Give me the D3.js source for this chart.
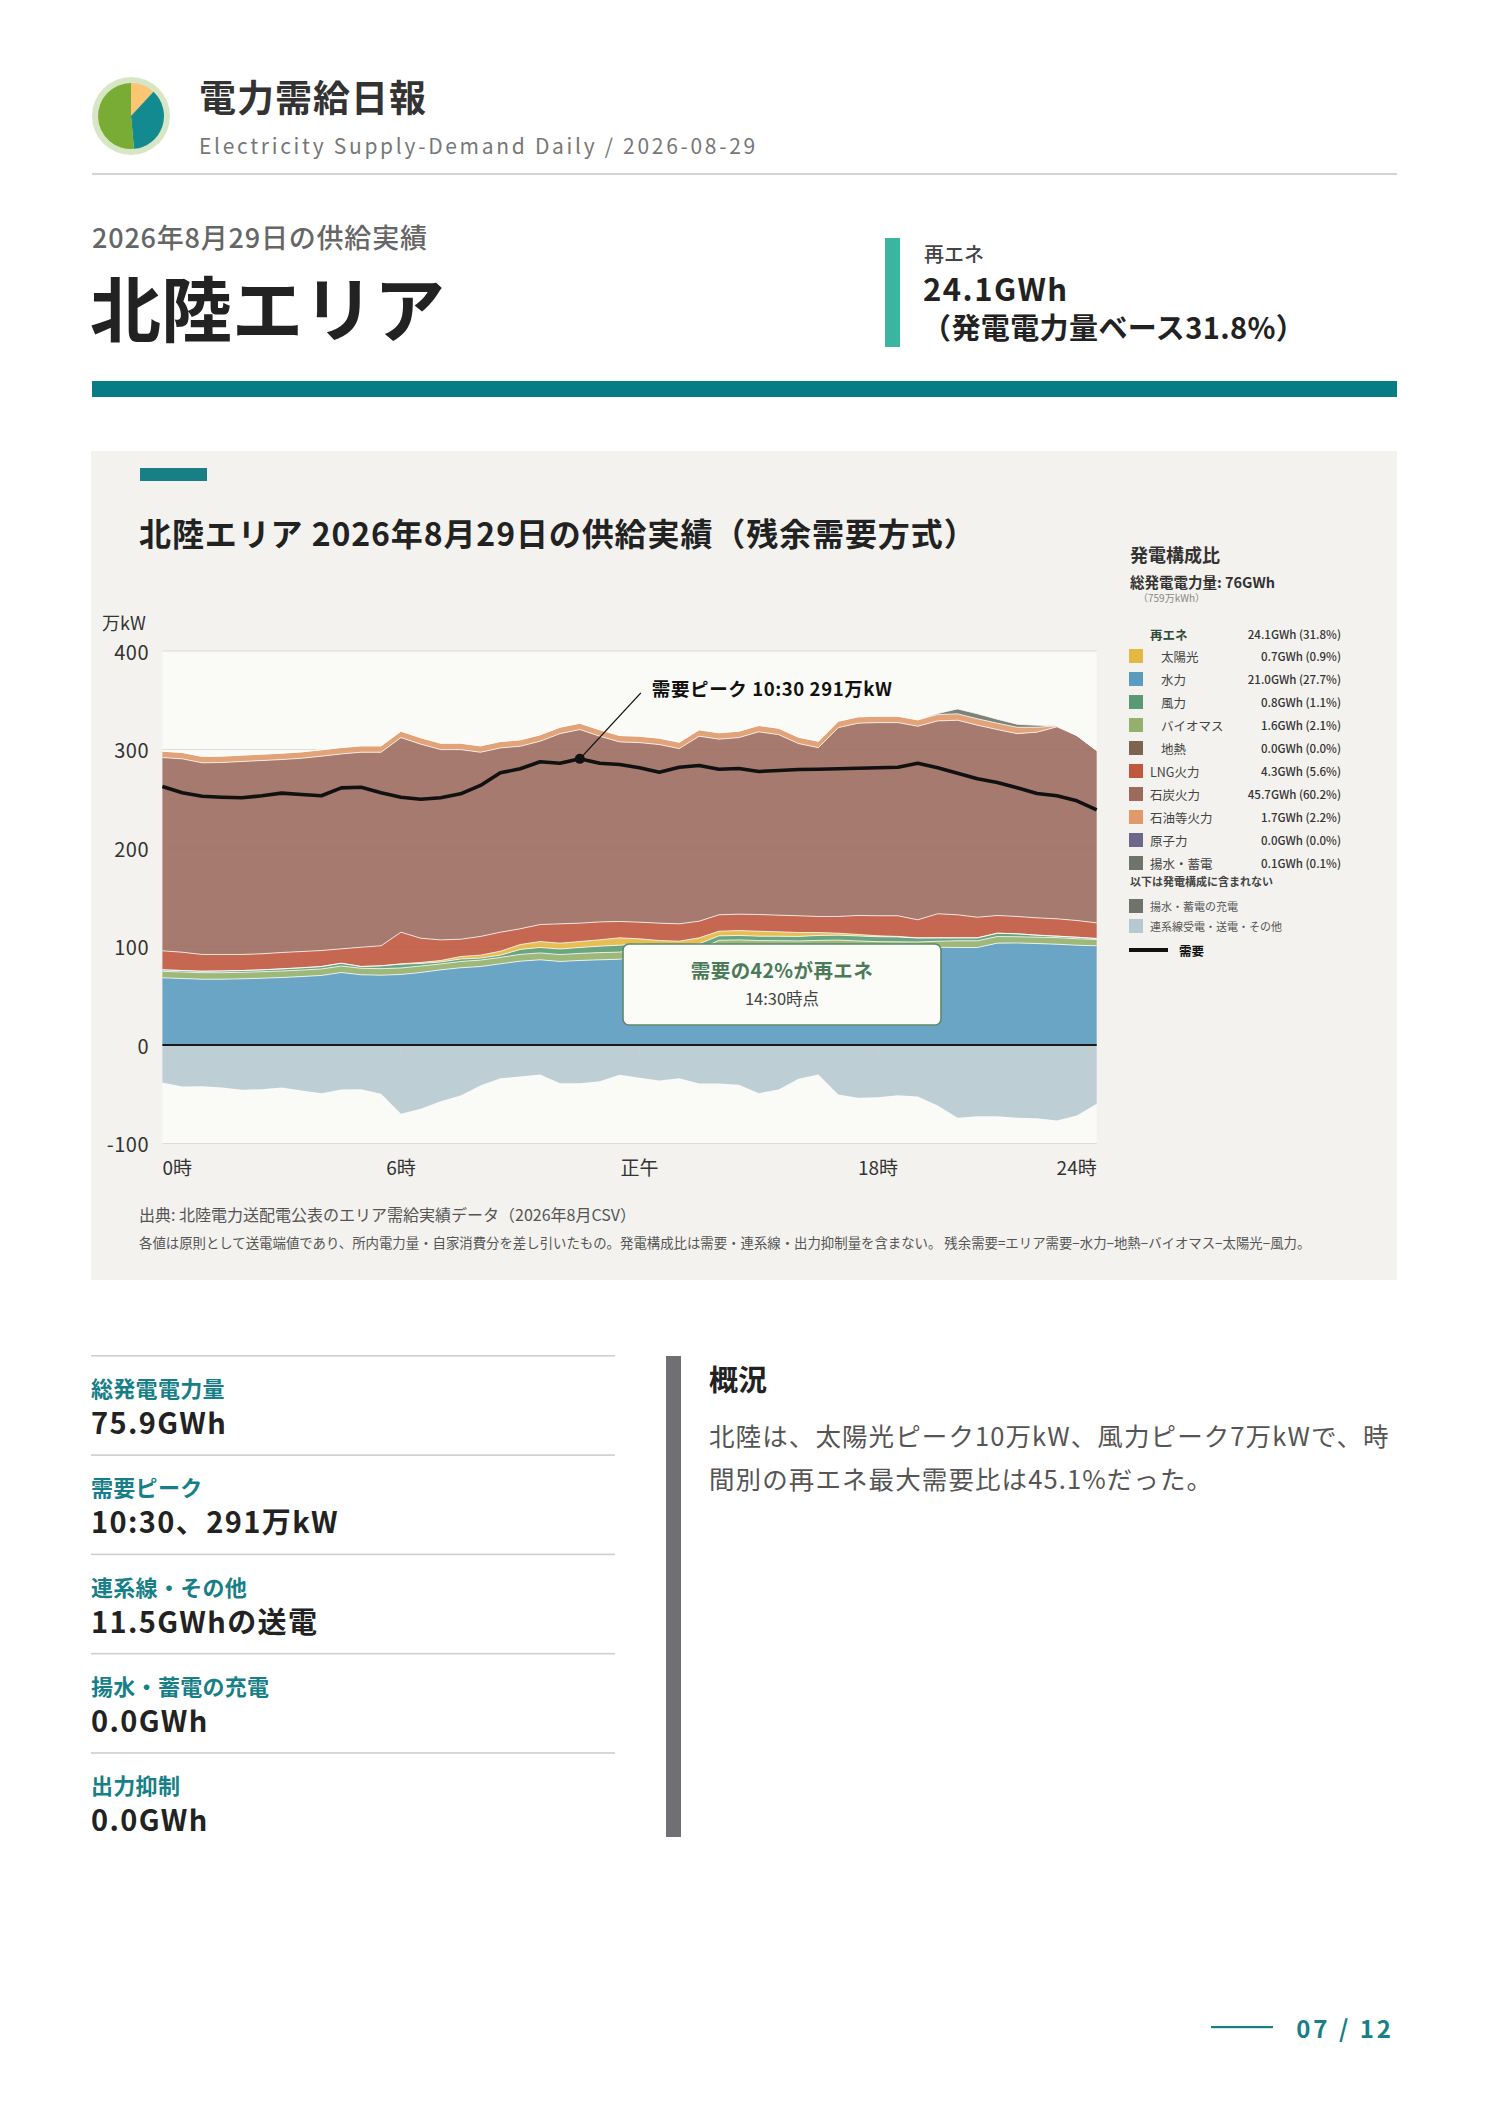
<!DOCTYPE html>
<html lang="ja">
<head>
<meta charset="utf-8">
<script src="https://cdn.jsdelivr.net/npm/d3@7/dist/d3.min.js"></script>
<style>
html,body{margin:0;padding:0;background:#ffffff;}
svg{display:block;font-family:"Noto Sans CJK JP","Noto Sans",sans-serif;}
</style>
</head>
<body>
<svg id="page" width="1488" height="2105"></svg>
<script>
// ---------- DATA ----------
const slots = ["0:00","0:30","1:00","1:30","2:00","2:30","3:00","3:30","4:00","4:30","5:00","5:30",
"6:00","6:30","7:00","7:30","8:00","8:30","9:00","9:30","10:00","10:30","11:00","11:30",
"12:00","12:30","13:00","13:30","14:00","14:30","15:00","15:30","16:00","16:30","17:00","17:30",
"18:00","18:30","19:00","19:30","20:00","20:30","21:00","21:30","22:00","22:30","23:00","23:30"];

const hydro = [68.2,67.5,66.8,66.8,67.2,67.8,68.5,69.5,70.6,73.6,71.3,70.9,71.6,73.6,76.3,78.4,79.7,82.4,85.1,86.5,84.8,85.8,86.5,87.1,
89.8,88.1,87.4,89.8,99.3,99.7,99.0,98.9,98.7,99.2,99.5,98.7,97.9,97.7,97.6,99.3,99.0,99.0,103.4,103.6,103.0,102.3,101.3,100.7];
const geothermal = [0,0,0,0,0,0,0,0,0,0,0,0,0,0,0,0,0,0,0,0,0,0,0,0,0,0,0,0,0,0,0,0,0,0,0,0,0,0,0,0,0,0,0,0,0,0,0,0];
const biomass = [6.6,6.6,6.6,6.6,6.6,6.6,6.6,6.6,6.6,6.6,6.6,6.6,6.6,6.6,6.0,6.4,6.5,6.5,6.9,7.0,7.0,7.2,7.3,7.2,
7.0,7.0,7.0,7.0,7.0,7.0,7.0,7.0,7.0,7.0,7.0,7.0,7.0,7.0,7.0,6.0,6.8,6.8,6.7,6.3,6.5,6.7,6.6,6.4];
const wind = [1.5,1.5,1.5,1.8,1.8,1.9,2.2,2.3,2.5,2.8,1.8,2.9,3.9,2.6,2.0,2.5,2.0,2.3,5.0,5.5,5.6,6.0,6.5,7.0,
6.0,6.0,6.0,6.0,4.5,4.5,4.5,4.5,4.5,5.0,5.0,5.0,5.0,5.0,4.0,3.5,3.0,3.0,3.4,3.0,2.0,1.5,1.5,1.0];
const solar = [0,0,0,0,0,0,0,0,0,0,0,0,0.3,1.0,1.5,2.5,3.0,4.0,5.0,6.0,6.0,6.0,6.5,7.5,
5.0,5.0,5.0,6.0,4.7,5.0,5.0,4.5,4.0,3.0,2.0,1.5,1.0,0.5,0.2,0,0,0,0,0,0,0,0,0];
const lng = [19.3,18.6,17.0,16.7,16.3,16.3,16.6,16.5,16.2,14.6,19.6,20.3,32.1,24.6,20.9,17.6,19.0,19.3,16.0,17.3,19.6,18.7,18.2,16.6,
16.9,17.6,17.6,16.9,16.7,16.6,17.0,16.9,17.0,16.3,17.0,19.3,20.3,21.0,18.3,24.4,23.4,20.9,18.0,17.6,17.6,17.6,17.0,15.9];
const coal = [196.2,196.3,194.6,194.9,195.9,196.2,195.9,196.2,197.3,197.9,197.9,196.5,197.6,197.0,193.2,192.5,187.0,187.1,185.3,186.1,193.1,196.5,188.5,182.3,
182.3,181.3,177.9,187.8,178.3,179.3,185.4,183.3,174.8,171.4,191.7,195.2,196.1,196.1,196.5,195.8,197.5,195.0,188.7,185.6,188.5,194.9,187.8,175.0];
const oil = [6.5,6.5,6.5,6.5,6.5,6.5,6.5,6.5,6.5,6.5,6.5,6.5,6.5,6.5,6.5,6.5,6.5,6.5,6.5,6.5,6.5,6.5,6.5,6.5,
6.5,6.5,6.5,6.5,6.5,6.5,6.5,6.5,6.5,6.5,6.5,6.5,6.5,6.5,6.5,6.5,6.5,6.5,6.5,6.5,5.0,1.0,0,0];
const nuclear = [0,0,0,0,0,0,0,0,0,0,0,0,0,0,0,0,0,0,0,0,0,0,0,0,0,0,0,0,0,0,0,0,0,0,0,0,0,0,0,0,0,0,0,0,0,0,0,0];
const pumpedGen = [0,0,0,0,0,0,0,0,0,0,0,0,0,0,0,0,0,0,0,0,0,0,0,0,0,0,0,0,0,0,0,0,0,0,0,0,0,0,0,1,5,5,4,3,2,0,0,0];
const pumpedCharge = [0,0,0,0,0,0,0,0,0,0,0,0,0,0,0,0,0,0,0,0,0,0,0,0,0,0,0,0,0,0,0,0,0,0,0,0,0,0,0,0,0,0,0,0,0,0,0,0];
const interconnect = [-38.0,-42.1,-41.8,-43.1,-45.5,-44.8,-43.1,-46.2,-48.9,-45.2,-44.8,-49.6,-69.9,-64.8,-57.0,-51.3,-41.1,-33.7,-32.0,-29.9,-38.8,-38.8,-36.7,-30.3,
-33.3,-36.0,-33.7,-39.1,-39.1,-40.4,-48.9,-45.2,-34.3,-29.9,-50.3,-53.6,-53.0,-51.0,-52.3,-61.4,-73.9,-72.3,-72.3,-73.9,-74.3,-76.6,-71.6,-59.7];
const demand = [262.4,256.0,252.6,251.6,251.0,253.0,255.7,254.3,253.0,261.0,261.7,256.0,251.6,249.5,251.0,255.0,263.5,276.3,280.4,287.5,286.0,290.5,286.0,284.8,
281.4,277.0,282.0,283.8,280.0,280.7,277.7,278.7,279.7,280.0,280.4,281.0,281.4,282.0,286.0,281.4,276.0,270.2,266.5,261.1,255.3,253.0,247.9,238.8];

const yTicks = [-100,0,100,200,300,400];
const xTickHours = [0,6,12,18,24];
const xTickLabels = ["0時","6時","正午","18時","24時"];

const legendRenewLabel = "再エネ";
const legendRenewValue = "24.1GWh (31.8%)";
const legendKeys = ["solar","hydro","wind","biomass","geothermal","lng","coal","oil","nuclear","pumpedGen"];
const legendLabels = ["太陽光","水力","風力","バイオマス","地熱","LNG火力","石炭火力","石油等火力","原子力","揚水・蓄電"];
const legendValues = ["0.7GWh (0.9%)","21.0GWh (27.7%)","0.8GWh (1.1%)","1.6GWh (2.1%)","0.0GWh (0.0%)","4.3GWh (5.6%)","45.7GWh (60.2%)","1.7GWh (2.2%)","0.0GWh (0.0%)","0.1GWh (0.1%)"];
const legendSub = [true,true,true,true,true,false,false,false,false,false];
const legendExtraKeys = ["pumpedCharge","interconnect"];
const legendExtraLabels = ["揚水・蓄電の充電","連系線受電・送電・その他"];

const statLabels = ["総発電電力量","需要ピーク","連系線・その他","揚水・蓄電の充電","出力抑制"];
const statValues = ["75.9GWh","10:30、291万kW","11.5GWhの送電","0.0GWh","0.0GWh"];

const colors = {
  hydro:"#5b9bc0", geothermal:"#7b6550", biomass:"#93b06c", wind:"#5a9a72", solar:"#e3b740",
  lng:"#c0583e", coal:"#9c6b5e", oil:"#e0996a", nuclear:"#6d6789", pumpedGen:"#6e736c",
  pumpedCharge:"#6e736c", interconnect:"#b7c9d0"
};

// ---------- PAGE ----------
const svg = d3.select("#page");
const FONT = '"Noto Sans CJK JP","Noto Sans",sans-serif';
function text(g, x, y, s, o = {}) {
  const t = g.append("text").attr("x", x).attr("y", y).text(s)
    .attr("dominant-baseline", "central")
    .attr("font-size", o.size || 14)
    .attr("font-weight", o.weight || 400)
    .attr("fill", o.fill || "#333")
    .attr("text-anchor", o.anchor || "start");
  if (o.ls) t.attr("letter-spacing", o.ls);
  return t;
}

// Logo
const logo = svg.append("g").attr("transform", "translate(131,116)");
logo.append("circle").attr("r", 39).attr("fill", "#d7e7c5");
const arc = d3.arc().innerRadius(0).outerRadius(33);
[[0, 0.75, "#fcc571"], [0.75, 3.05, "#138a90"], [3.05, 2 * Math.PI, "#79ac35"]].forEach(a => {
  logo.append("path").attr("d", arc({startAngle: a[0], endAngle: a[1]})).attr("fill", a[2]);
});

text(svg, 199, 96, "電力需給日報", {size: 37, weight: 700, fill: "#333", ls: 1});
text(svg, 199, 145, "Electricity Supply-Demand Daily / 2026-08-29", {size: 21, fill: "#777", ls: 2.7});
svg.append("rect").attr("x", 92).attr("y", 173).attr("width", 1305).attr("height", 2).attr("fill", "#d4d4d4");

text(svg, 92, 236, "2026年8月29日の供給実績", {size: 27, weight: 500, fill: "#666", ls: 0.8});
text(svg, 90, 305, "北陸エリア", {size: 71, weight: 700, fill: "#222"});

svg.append("rect").attr("x", 885).attr("y", 238).attr("width", 15).attr("height", 109).attr("fill", "#3cb5a0");
text(svg, 924, 253, "再エネ", {size: 20, weight: 500, fill: "#444"});
text(svg, 923, 287, "24.1GWh", {size: 31, weight: 700, fill: "#222", ls: 1.5});
text(svg, 922, 326, "（発電電力量ベース31.8%）", {size: 29, weight: 700, fill: "#222", ls: 0.4});

svg.append("rect").attr("x", 92).attr("y", 381).attr("width", 1305).attr("height", 16).attr("fill", "#087c86");

// Chart panel
svg.append("rect").attr("x", 91).attr("y", 451).attr("width", 1306).attr("height", 829).attr("fill", "#f3f2ee");
svg.append("rect").attr("x", 140).attr("y", 468).attr("width", 67).attr("height", 13).attr("fill", "#187f87");
text(svg, 139, 532, "北陸エリア 2026年8月29日の供給実績（残余需要方式）", {size: 32, weight: 600, fill: "#222", ls: 0.9});

// Scales
const x = d3.scaleLinear().domain([0, 23.5]).range([162.4, 1096.7]);
const y = d3.scaleLinear().domain([-100, 400]).range([1143.5, 651]);

const table = slots.map((s, i) => ({
  h: i * 0.5, hydro: hydro[i], geothermal: geothermal[i], biomass: biomass[i], wind: wind[i], solar: solar[i],
  lng: lng[i], coal: coal[i], oil: oil[i], nuclear: nuclear[i], pumpedGen: pumpedGen[i],
  interconnect: interconnect[i], pumpedCharge: pumpedCharge[i], demand: demand[i]
}));

const plot = svg.append("g");
plot.append("rect").attr("x", x.range()[0]).attr("y", y(400))
  .attr("width", x.range()[1] - x.range()[0]).attr("height", y(-100) - y(400)).attr("fill", "#fafaf7");
plot.selectAll("line.grid").data(yTicks).join("line").attr("class", "grid")
  .attr("x1", x.range()[0]).attr("x2", x.range()[1])
  .attr("y1", d => y(d)).attr("y2", d => y(d)).attr("stroke", "#dcdcd8").attr("stroke-width", 1.2);

const posKeys = ["hydro","geothermal","biomass","wind","solar","lng","coal","oil","nuclear","pumpedGen"];
const negKeys = ["interconnect","pumpedCharge"];
const posStack = d3.stack().keys(posKeys)(table);
const negStack = d3.stack().keys(negKeys)(table);
const allLayers = posStack.concat(negStack);

const area = d3.area().x(d => x(d.data.h)).y0(d => y(d[0])).y1(d => y(d[1]));
const edge = d3.line().x(d => x(d.data.h)).y(d => y(d[1]));

plot.selectAll("path.layer").data(allLayers).join("path").attr("class", "layer")
  .attr("d", area).attr("fill", d => colors[d.key]).attr("fill-opacity", 0.9);
plot.selectAll("path.edge").data(posStack.filter(l => l.some(p => p[1] - p[0] !== 0)))
  .join("path").attr("class", "edge").attr("d", edge)
  .attr("fill", "none").attr("stroke", "#ffffff").attr("stroke-width", 1).attr("stroke-opacity", 0.75);

// zero line & ticks
plot.append("line").attr("x1", x.range()[0]).attr("x2", x.range()[1])
  .attr("y1", y(0)).attr("y2", y(0)).attr("stroke", "#1a1a1a").attr("stroke-width", 2.2);
plot.selectAll("line.xt").data(xTickHours.filter(h => h > 0 && h < 23.5)).join("line").attr("class", "xt")
  .attr("x1", d => x(d)).attr("x2", d => x(d)).attr("y1", y(0) + 2).attr("y2", y(0) + 8)
  .attr("stroke", "#c9cfd2").attr("stroke-width", 1);

// demand line
const dline = d3.line().x(d => x(d.h)).y(d => y(d.demand));
plot.append("path").datum(table).attr("d", dline).attr("fill", "none")
  .attr("stroke", "#111").attr("stroke-width", 3.6).attr("stroke-linejoin", "round");

// axes labels
text(svg, 102, 622, "万kW", {size: 18, fill: "#333"});
svg.selectAll("text.yl").data(yTicks).join("text").attr("class", "yl")
  .attr("x", 149).attr("y", d => y(d)).attr("dominant-baseline", "central")
  .attr("text-anchor", "end").attr("font-size", 20).attr("fill", "#333").attr("font-family", FONT)
  .attr("letter-spacing", 0.5).text(d => d);
svg.selectAll("text.xl").data(xTickHours).join("text").attr("class", "xl")
  .attr("x", (d, i) => i === 0 ? x.range()[0] : Math.min(x(d), x.range()[1]))
  .attr("y", 1166).attr("dominant-baseline", "central")
  .attr("text-anchor", (d, i) => i === 0 ? "start" : (i === xTickHours.length - 1 ? "end" : "middle"))
  .attr("font-size", 19).attr("fill", "#333").attr("font-family", FONT)
  .text((d, i) => xTickLabels[i]);

// peak annotation
const peakIdx = demand.indexOf(d3.max(demand));
const px = x(table[peakIdx].h), py = y(demand[peakIdx]);
plot.append("line").attr("x1", px).attr("y1", py).attr("x2", px + 61).attr("y2", py - 66)
  .attr("stroke", "#111").attr("stroke-width", 1.3);
plot.append("circle").attr("cx", px).attr("cy", py).attr("r", 5).attr("fill", "#111");
text(svg, px + 72, py - 71, "需要ピーク " + slots[peakIdx] + " " + Math.round(demand[peakIdx]) + "万kW", {size: 18.5, weight: 700, fill: "#111", ls: 0.6});

// renewable share box
plot.append("rect").attr("x", 623).attr("y", 944).attr("width", 318).attr("height", 81).attr("rx", 6)
  .attr("fill", "#fbfbf8").attr("stroke", "#5b8a68").attr("stroke-width", 1.6);
text(svg, 782, 969, "需要の42%が再エネ", {size: 19.5, weight: 700, fill: "#4b7a58", anchor: "middle", ls: 0.4});
text(svg, 782, 998, "14:30時点", {size: 16.5, fill: "#444", anchor: "middle"});

// notes
text(svg, 139, 1214, "出典: 北陸電力送配電公表のエリア需給実績データ（2026年8月CSV）", {size: 16, fill: "#555"});
text(svg, 139, 1242, "各値は原則として送電端値であり、所内電力量・自家消費分を差し引いたもの。発電構成比は需要・連系線・出力抑制量を含まない。 残余需要=エリア需要−水力−地熱−バイオマス−太陽光−風力。", {size: 13.4, fill: "#555"});

// legend
const lg = svg.append("g");
text(lg, 1130, 554, "発電構成比", {size: 18, weight: 700, fill: "#333"});
text(lg, 1130, 581, "総発電電力量: 76GWh", {size: 14.5, weight: 700, fill: "#333"});
text(lg, 1138, 597, "（759万kWh）", {size: 10, fill: "#888"});
text(lg, 1150, 634, legendRenewLabel, {size: 12.5, weight: 700, fill: "#2f4b37"});
text(lg, 1341, 634, legendRenewValue, {size: 11.5, weight: 500, fill: "#333", anchor: "end"});
legendKeys.forEach((k, i) => {
  const yy = 656 + i * 23;
  lg.append("rect").attr("x", 1129).attr("y", yy - 7).attr("width", 14).attr("height", 14).attr("fill", colors[k]);
  text(lg, legendSub[i] ? 1161 : 1150, yy, legendLabels[i], {size: 12.5, fill: "#444"});
  text(lg, 1341, yy, legendValues[i], {size: 11.5, weight: 500, fill: "#333", anchor: "end"});
});
text(lg, 1130, 881, "以下は発電構成に含まれない", {size: 11, weight: 700, fill: "#444"});
legendExtraKeys.forEach((k, i) => {
  const yy = 906 + i * 20;
  lg.append("rect").attr("x", 1129).attr("y", yy - 7).attr("width", 14).attr("height", 14).attr("fill", colors[k]);
  text(lg, 1150, yy, legendExtraLabels[i], {size: 11, fill: "#555"});
});
lg.append("line").attr("x1", 1129).attr("x2", 1168).attr("y1", 950).attr("y2", 950).attr("stroke", "#111").attr("stroke-width", 4);
text(lg, 1179, 950, "需要", {size: 12.5, weight: 700, fill: "#111"});

// stats
const st = svg.append("g");
statLabels.forEach((l, i) => {
  const y0 = 1356 + i * 99.3;
  st.append("rect").attr("x", 91).attr("y", y0 - 1).attr("width", 524).attr("height", 1.6).attr("fill", "#cfcfcf");
  text(st, 91, y0 + 31, l, {size: 22, weight: 700, fill: "#177f88", ls: 0.3});
  text(st, 91, y0 + 65, statValues[i], {size: 29, weight: 700, fill: "#222", ls: 1.4});
});

// summary
svg.append("rect").attr("x", 666).attr("y", 1356).attr("width", 15).attr("height", 481).attr("fill", "#707074");
text(svg, 709, 1378, "概況", {size: 29, weight: 700, fill: "#222"});
text(svg, 709, 1434, "北陸は、太陽光ピーク10万kW、風力ピーク7万kWで、時", {size: 25.5, fill: "#555", ls: 1.1});
text(svg, 709, 1477, "間別の再エネ最大需要比は45.1%だった。", {size: 25.5, fill: "#555", ls: 1.1});

// page number
svg.append("rect").attr("x", 1211).attr("y", 2026).attr("width", 62).attr("height", 2.2).attr("fill", "#187f87");
text(svg, 1394, 2027, "07 / 12", {size: 24, weight: 700, fill: "#187f87", anchor: "end", ls: 3});
</script>
</body>
</html>
